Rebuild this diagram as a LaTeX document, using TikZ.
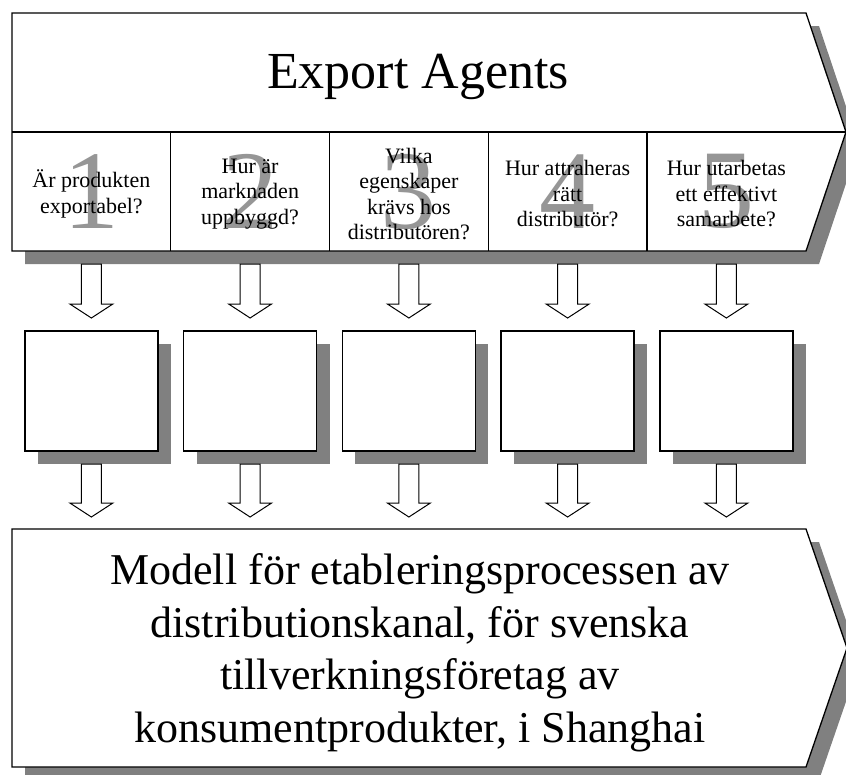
\documentclass[tikz,border=0pt]{standalone}
\usepackage{fontspec}
\setmainfont{Liberation Serif}
\usetikzlibrary{positioning,calc}

\definecolor{shadowgray}{RGB}{128,128,128}
\definecolor{digitgray}{RGB}{150,150,150}

\tikzset{
    every node/.style = {
        inner sep=0pt,
        outer sep=0pt
    },
    shade/.style = {
        preaction={fill=shadowgray, draw=none,
            transform canvas={xshift=13pt, yshift=-13pt}}
    },
    banner/.style = {
        draw,
        fill=white,
        line width=1.3pt,
        shade
    },
    cell/.style = {
        shape=rectangle,
        minimum width=158.75pt,
        minimum height=119pt
    },
    question/.style = {
        align=center,
        font=\fontsize{22}{25.5}\selectfont
    },
    digit/.style = {
        text=digitgray,
        font=\fontsize{112}{112}\selectfont
    },
    stage/.style = {
        draw,
        fill=white,
        shape=rectangle,
        minimum width=133pt,
        minimum height=120pt,
        line width=1.3pt,
        shade
    },
    hollow/.style = {
        draw,
        fill=white,
        line width=1pt,
        to path={let \p1=(\tikztostart), \p2=(\tikztotarget) in
            (\x1-10pt,\y1) -- (\x1+10pt,\y1) -- (\x1+10pt,\y2+14pt)
            -- (\x1+21.5pt,\y2+14pt) -- (\x1,\y2) -- (\x1-21.5pt,\y2+14pt)
            -- (\x1-10pt,\y2+14pt) -- cycle}
    },
}

\begin{document}
\begin{tikzpicture}[x=1pt, y=-1pt]
                \useasboundingbox (0,0) rectangle (846,774);

                % header band with the five questions
                \draw[banner] (12,13) -- (806,13) -- (846,132) -- (806,251) -- (12,251) -- cycle;
                \draw[line width=1.2pt] (12,132) -- (846,132);
                \node[anchor=base, font=\fontsize{52}{60}\selectfont] (title) at (418,88) {Export Agents};

                \node[cell] (c1) at (91.375,191.5) {};
                \node[cell] (c2) at (250.125,191.5) {};
                \node[cell] (c3) at (408.875,191.5) {};
                \node[cell] (c4) at (567.625,191.5) {};
                \node[cell] (c5) at (726.375,191.5) {};
                \draw[line width=1.2pt] (c1.north east) -- (c1.south east);
                \draw[line width=1.2pt] (c2.north east) -- (c2.south east);
                \draw[line width=1.2pt] (c3.north east) -- (c3.south east);
                \draw[line width=1.2pt] (c4.north east) -- (c4.south east);

                \node[digit] (d1) at (c1) {1};
                \node[digit] (d2) at (c2) {2};
                \node[digit] (d3) at (c3) {3};
                \node[digit] (d4) at (c4) {4};
                \node[digit] (d5) at (c5) {5};

                \node[question] (q1) at (91.375,194) {Är produkten\\exportabel?};
                \node[question] (q2) at (250.125,194) {Hur är\\marknaden\\uppbyggd?};
                \node[question] (q3) at (408.875,194) {Vilka\\egenskaper\\krävs hos\\distributören?};
                \node[question] (q4) at (567.625,194) {Hur attraheras\\rätt\\distributör?};
                \node[question] (q5) at (726.375,194) {Hur utarbetas\\ett effektivt\\samarbete?};

                % empty stage boxes
                \node[stage] (s1) at (91.375,391) {};
                \node[stage] (s2) at (250.125,391) {};
                \node[stage] (s3) at (408.875,391) {};
                \node[stage] (s4) at (567.625,391) {};
                \node[stage] (s5) at (726.375,391) {};

                % resulting model
                \draw[banner] (12,529) -- (806,529) -- (847,648) -- (806,767) -- (12,767) -- cycle;
                \coordinate (goaltop) at (12,529);
                \node[align=center, font=\fontsize{44}{52.5}\selectfont] (goal) at (420,652.5)
                    {Modell för etableringsprocessen av\\distributionskanal, för svenska\\tillverkningsföretag av\\konsumentprodukter, i Shanghai};

                \draw[hollow] ([yshift=-13pt]c1.south) to ([yshift=13pt]s1.north);
                \draw[hollow] ([yshift=-13pt]c2.south) to ([yshift=13pt]s2.north);
                \draw[hollow] ([yshift=-13pt]c3.south) to ([yshift=13pt]s3.north);
                \draw[hollow] ([yshift=-13pt]c4.south) to ([yshift=13pt]s4.north);
                \draw[hollow] ([yshift=-13pt]c5.south) to ([yshift=13pt]s5.north);

                \draw[hollow] ([yshift=-13pt]s1.south) to ([yshift=12pt]s1.south |- goaltop);
                \draw[hollow] ([yshift=-13pt]s2.south) to ([yshift=12pt]s2.south |- goaltop);
                \draw[hollow] ([yshift=-13pt]s3.south) to ([yshift=12pt]s3.south |- goaltop);
                \draw[hollow] ([yshift=-13pt]s4.south) to ([yshift=12pt]s4.south |- goaltop);
                \draw[hollow] ([yshift=-13pt]s5.south) to ([yshift=12pt]s5.south |- goaltop);
            \end{tikzpicture}
\end{document}
